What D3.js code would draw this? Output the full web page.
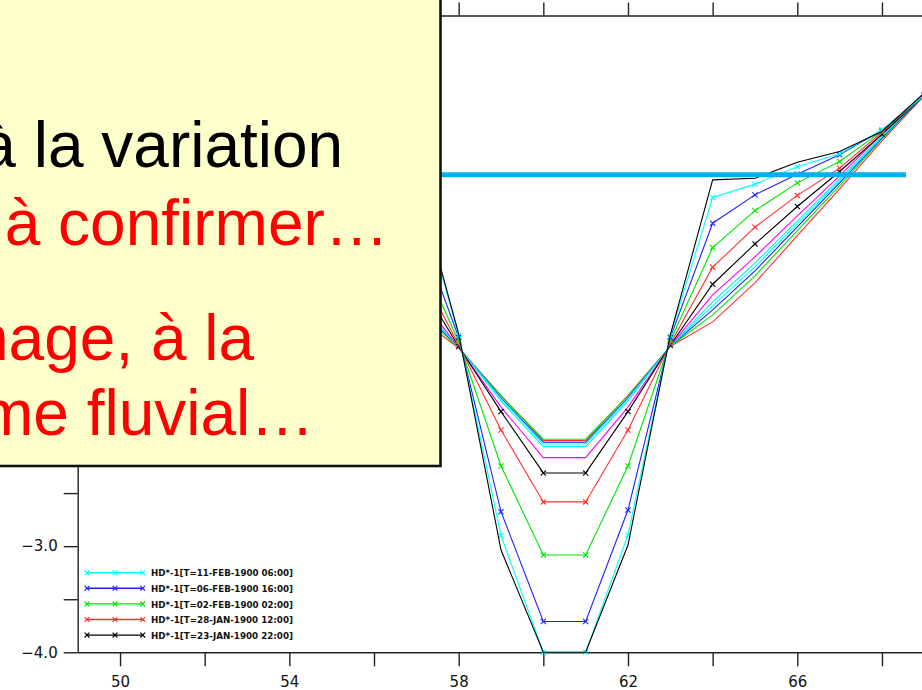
<!DOCTYPE html>
<html>
<head>
<meta charset="utf-8">
<script src="https://cdn.jsdelivr.net/npm/d3@7"></script>
<style>
  html, body { margin: 0; padding: 0; background: #ffffff; overflow: hidden; }
  svg { display: block; }
</style>
</head>
<body>
<svg id="chart" width="922" height="690"></svg>
<script>
// ---------------- DATA ----------------
const xValues = [57, 58, 59, 60, 61, 62, 63, 64, 65, 66, 67, 68, 69];

// early profiles (thin, no markers)
const redEarly     = [-0.833, -1.133, -1.580, -2.006, -2.006, -1.580, -1.118, -0.887, -0.519, -0.075, 0.367, 0.819, 1.243];
const greenEarly   = [-0.759, -1.132, -1.585, -1.992, -1.992, -1.585, -1.116, -0.821, -0.453, -0.028, 0.395, 0.838, 1.253];
const blueEarly    = [-0.722, -1.130, -1.603, -2.021, -2.021, -1.603, -1.115, -0.774, -0.406, 0.009, 0.423, 0.847, 1.253];
const cyanEarly    = [-0.702, -1.128, -1.613, -2.037, -2.037, -1.613, -1.114, -0.736, -0.368, 0.037, 0.442, 0.856, 1.262];
const cyanEarly2   = [-0.680, -1.127, -1.632, -2.062, -2.062, -1.632, -1.113, -0.698, -0.331, 0.065, 0.461, 0.866, 1.262];
const magentaEarly = [-0.614, -1.127, -1.690, -2.166, -2.166, -1.690, -1.112, -0.632, -0.274, 0.112, 0.489, 0.885, 1.262];

// legend profiles (thin, with x markers)
const hd23Jan = [-0.464, -1.119, -1.732, -2.310, -2.310, -1.732, -1.107, -0.532, -0.152, 0.200, 0.530, 0.880, 1.250];
const hd28Jan = [-0.342, -1.103, -1.905, -2.583, -2.583, -1.905, -1.092, -0.371, 0.006, 0.305, 0.562, 0.900, 1.250];
const hd02Feb = [-0.188, -1.072, -2.244, -3.083, -3.083, -2.244, -1.067, -0.187, 0.162, 0.423, 0.624, 0.910, 1.250];
const hd06Feb = [ 0.056, -1.033, -2.675, -3.710, -3.710, -2.659, -1.035, 0.043, 0.310, 0.505, 0.687, 0.920, 1.250];
const hd11Feb = [ 0.415, -1.012, -2.901, -4.000, -4.000, -2.894, -1.017, 0.285, 0.411, 0.575, 0.697, 0.923, 1.250];

// latest profile (thin black, no markers)
const blackLate = [0.465, -1.000, -3.036, -4.000, -4.000, -2.989, -1.010, 0.451, 0.467, 0.618, 0.718, 0.907, 1.270];

const legendLabels = [
  "HD*-1[T=11-FEB-1900 06:00]",
  "HD*-1[T=06-FEB-1900 16:00]",
  "HD*-1[T=02-FEB-1900 02:00]",
  "HD*-1[T=28-JAN-1900 12:00]",
  "HD*-1[T=23-JAN-1900 22:00]"
];

const xTicks = [50, 52, 54, 56, 58, 60, 62, 64, 66, 68];
const xTickLabels = [50, 54, 58, 62, 66];
const yTicks = [-4, -3.5, -3, -2.5, -2, -1.5, -1, -0.5, 0, 0.5, 1, 1.5, 2];
const yTickLabels = [-4, -3];   // the others lie under the overlay box

const refLevel = 0.5;        // horizontal reference line (water level)
const refXStart = 49;
const refXEnd = 68.57;

const boxLines = [
  { text: "à la variation", color: "#000000" },
  { text: "à confirmer…",  color: "#ff0000" },
  { text: "nage, à la",     color: "#ff0000" },
  { text: "me fluvial…",    color: "#ff0000" }
];

// ---------------- SERIES TABLE ----------------
const series = [
  { values: redEarly,     color: "#ff3030", marker: false },
  { values: greenEarly,   color: "#00e600", marker: false },
  { values: blueEarly,    color: "#2020ff", marker: false },
  { values: cyanEarly,    color: "#00ffff", marker: false },
  { values: cyanEarly2,   color: "#00f0f0", marker: false },
  { values: magentaEarly, color: "#ff00ff", marker: false },
  { values: hd23Jan,      color: "#000000", marker: true },
  { values: hd28Jan,      color: "#ff3030", marker: true },
  { values: hd02Feb,      color: "#00e600", marker: true },
  { values: hd06Feb,      color: "#2020ff", marker: true },
  { values: hd11Feb,      color: "#00ffff", marker: true },
  { values: blackLate,    color: "#000000", marker: false }
];
const legendColors = ["#00ffff", "#2020ff", "#00e600", "#ff3030", "#000000"];

// ---------------- DRAW ----------------
const svg = d3.select("#chart");
const x = d3.scaleLinear().domain([49, 69]).range([77.7, 924.3]);
const y = d3.scaleLinear().domain([-4, 2]).range([652.3, 15.5]);

const axisColor = "#222";
const tickFont = "'DejaVu Sans', sans-serif";

// bottom axis
const gB = svg.append("g").attr("transform", `translate(0,${y(-4)})`)
  .call(d3.axisBottom(x).tickValues(xTicks).tickSize(14).tickSizeOuter(0)
    .tickFormat(d => xTickLabels.includes(d) ? String(d) : ""));
// top axis
const gT = svg.append("g").attr("transform", `translate(0,${y(2)})`)
  .call(d3.axisTop(x).tickValues(xTicks).tickSize(13).tickSizeOuter(0).tickFormat(""));
// left axis
const gL = svg.append("g").attr("transform", `translate(${x(49)},0)`)
  .call(d3.axisLeft(y).tickValues(yTicks).tickSize(14).tickSizeOuter(0)
    .tickFormat(d => yTickLabels.includes(d) ? d3.format(".1f")(d) : ""));

[gB, gT, gL].forEach(g => {
  g.select(".domain").attr("stroke", axisColor).attr("stroke-width", 1.4);
  g.selectAll(".tick line").attr("stroke", axisColor).attr("stroke-width", 1.4);
  g.selectAll(".tick text").attr("fill", "#111").style("font-family", tickFont).style("font-size", "15px");
  g.selectAll(".tick text").filter(function () { return this.textContent === ""; }).remove();
});
gB.selectAll(".tick text").attr("y", 35).attr("dy", 0);
gL.selectAll(".tick text").attr("x", -20);

// data lines
const line = d3.line().x((d, i) => x(xValues[i])).y(d => y(d));
const gData = svg.append("g");
series.forEach(s => {
  gData.append("path")
    .datum(s.values)
    .attr("d", line)
    .attr("fill", "none")
    .attr("stroke", s.color)
    .attr("stroke-width", 1.1)
    .attr("stroke-linejoin", "miter");
  if (s.marker) {
    const m = 2.6;
    gData.selectAll(null).data(s.values).enter().append("path")
      .attr("d", (d, i) => {
        const cx = x(xValues[i]), cy = y(d);
        return `M${cx - m},${cy - m}L${cx + m},${cy + m}M${cx - m},${cy + m}L${cx + m},${cy - m}`;
      })
      .attr("stroke", s.color)
      .attr("stroke-width", 1.1);
  }
});

// legend
const legX0 = 87, legX1 = 142.7, legMid = 115, legY0 = 572.7, legDy = 15.6;
const gLeg = svg.append("g");
legendLabels.forEach((lab, i) => {
  const ly = legY0 + i * legDy;
  const c = legendColors[i];
  gLeg.append("line").attr("x1", legX0).attr("x2", legX1).attr("y1", ly).attr("y2", ly)
    .attr("stroke", c).attr("stroke-width", 1.4);
  [legX0, legMid, legX1].forEach(cx => {
    const m = 2.4;
    gLeg.append("path")
      .attr("d", `M${cx - m},${ly - m}L${cx + m},${ly + m}M${cx - m},${ly + m}L${cx + m},${ly - m}`)
      .attr("stroke", c).attr("stroke-width", 1.2);
  });
  gLeg.append("text")
    .attr("x", 151).attr("y", ly + 3.6)
    .attr("textLength", 142).attr("lengthAdjust", "spacingAndGlyphs")
    .style("font-family", "'DejaVu Sans', sans-serif")
    .style("font-size", "9.5px").style("font-weight", "bold")
    .attr("fill", "#111")
    .text(lab);
});

// reference (water level) line
svg.append("line")
  .attr("x1", x(refXStart)).attr("x2", x(refXEnd))
  .attr("y1", y(refLevel)).attr("y2", y(refLevel))
  .attr("stroke", "#00b0f0").attr("stroke-width", 5);

// overlay text box
svg.append("rect")
  .attr("x", -10).attr("y", -10).attr("width", 450.5).attr("height", 476)
  .attr("fill", "#ffffcc").attr("stroke", "#111").attr("stroke-width", 2.6);

const boxPos = [ { x: -19.7, y: 166.7 }, { x: 4.7, y: 245 }, { x: -27, y: 359.5 }, { x: -20, y: 435 } ];
boxLines.forEach((l, i) => {
  svg.append("text")
    .attr("x", boxPos[i].x).attr("y", boxPos[i].y)
    .style("font-family", "'Liberation Sans', Arial, sans-serif")
    .style("font-size", "64px")
    .attr("fill", l.color)
    .text(l.text);
});
</script>
</body>
</html>
